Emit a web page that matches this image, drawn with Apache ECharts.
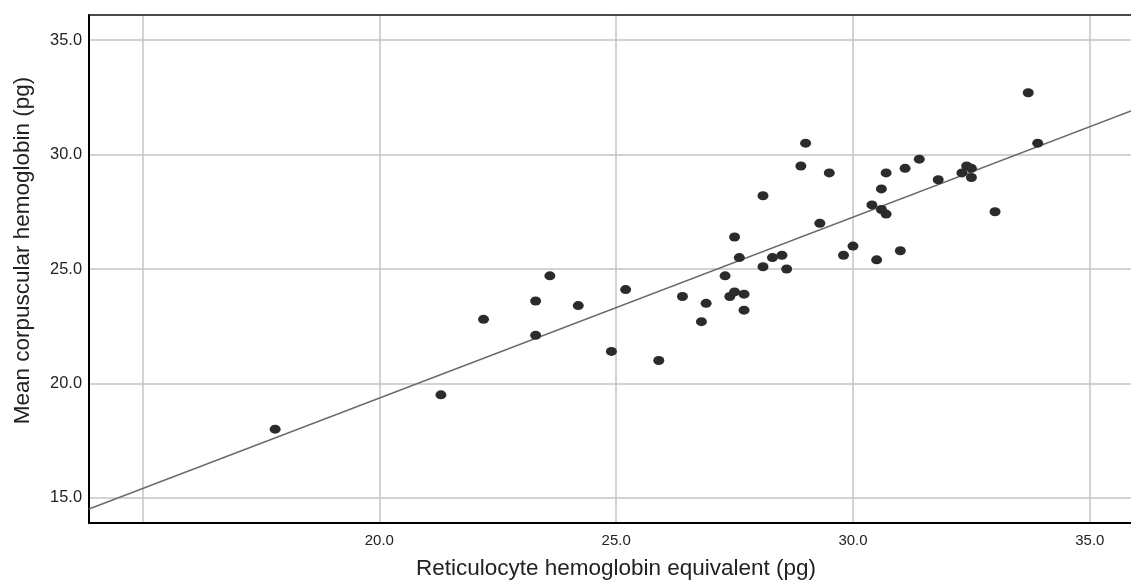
<!DOCTYPE html>
<html>
<head>
<meta charset="utf-8">
<script src="https://cdn.jsdelivr.net/npm/echarts@6/dist/echarts.min.js"></script>
<style>
  html, body { margin: 0; padding: 0; background: #fff; }
  #chart { width: 1131px; height: 585px; }
</style>
</head>
<body>
<div id="chart"></div>
<script>
// Reticulocyte hemoglobin equivalent (pg) for each subject
const retHe = [
  17.8, 21.3, 22.2, 23.3, 23.3, 23.6, 24.2, 24.9, 25.2, 25.9,
  26.4, 26.8, 26.9, 27.3, 27.4, 27.5, 27.7, 27.7, 27.5, 27.6,
  28.1, 28.1, 28.3, 28.5, 28.6, 28.9, 29.0, 29.3, 29.5, 29.8,
  30.0, 30.4, 30.5, 30.6, 30.6, 30.7, 30.7, 31.0, 31.1, 31.4,
  31.8, 32.3, 32.4, 32.5, 32.5, 33.0, 33.7, 33.9
];
// Mean corpuscular hemoglobin (pg) for the same subjects
const mch = [
  18.0, 19.5, 22.8, 23.6, 22.1, 24.7, 23.4, 21.4, 24.1, 21.0,
  23.8, 22.7, 23.5, 24.7, 23.8, 24.0, 23.9, 23.2, 26.4, 25.5,
  28.2, 25.1, 25.5, 25.6, 25.0, 29.5, 30.5, 27.0, 29.2, 25.6,
  26.0, 27.8, 25.4, 28.5, 27.6, 27.4, 29.2, 25.8, 29.4, 29.8,
  28.9, 29.2, 29.5, 29.4, 29.0, 27.5, 32.7, 30.5
];
// Axis ticks
const xTicks = [15, 20, 25, 30, 35];
const xTickLabels = [20, 25, 30, 35];
const yTicks = [15, 20, 25, 30, 35];

const xMin = 13.87, xMax = 35.87;
const yMin = 13.9, yMax = 36.1;

// Ordinary least-squares fit of MCH on RET-He
function linearFit(xs, ys) {
  const n = xs.length;
  let sx = 0, sy = 0;
  for (let i = 0; i < n; i++) { sx += xs[i]; sy += ys[i]; }
  const mx = sx / n, my = sy / n;
  let sxy = 0, sxx = 0;
  for (let i = 0; i < n; i++) {
    sxy += (xs[i] - mx) * (ys[i] - my);
    sxx += (xs[i] - mx) * (xs[i] - mx);
  }
  const slope = sxy / sxx;
  return { slope: slope, intercept: my - slope * mx };
}
const fit = linearFit(retHe, mch);
const fitLine = [xMin, xMax].map(x => [x, fit.intercept + fit.slope * x]);

const points = retHe.map((x, i) => [x, mch[i]]);

const chart = echarts.init(document.getElementById('chart'), null, { renderer: 'canvas' });
const FONT = '"Liberation Sans", Arial, sans-serif';
const fmt = v => Number(v).toFixed(1);

chart.setOption({
  animation: false,
  backgroundColor: '#ffffff',
  grid: { left: 89, right: 0, top: 15, bottom: 60, containLabel: false },
  xAxis: [{
    type: 'value',
    min: xMin, max: xMax,
    position: 'bottom',
    name: 'Reticulocyte hemoglobin equivalent (pg)',
    nameLocation: 'middle',
    nameGap: 34,
    nameTextStyle: { fontFamily: FONT, fontSize: 22.5, color: '#222', padding: [0, 0, 0, 12] },
    axisLine: { show: true, onZero: false, lineStyle: { color: '#000', width: 2 } },
    axisTick: { show: false, customValues: xTicks },
    axisLabel: {
      customValues: xTickLabels, formatter: fmt, margin: 10,
      fontFamily: FONT, fontSize: 15, color: '#222'
    },
    splitLine: { show: true, lineStyle: { color: '#c4c4c4', width: 1.5 } }
  }, {
    type: 'value',
    min: xMin, max: xMax,
    position: 'top',
    axisLine: { show: true, onZero: false, lineStyle: { color: '#111', width: 1.5 } },
    axisTick: { show: false },
    axisLabel: { show: false },
    splitLine: { show: false }
  }],
  yAxis: {
    type: 'value',
    min: yMin, max: yMax,
    name: 'Mean corpuscular hemoglobin (pg)',
    nameLocation: 'middle',
    nameGap: 55,
    nameTextStyle: { fontFamily: FONT, fontSize: 22.5, color: '#222', padding: [0, 0, 0, 37] },
    axisLine: { show: true, onZero: false, lineStyle: { color: '#000', width: 2 } },
    axisTick: { show: false, customValues: yTicks },
    axisLabel: {
      customValues: yTicks, formatter: fmt, margin: 7,
      fontFamily: FONT, fontSize: 16.4, color: '#222'
    },
    splitLine: { show: true, lineStyle: { color: '#c4c4c4', width: 1.5 } }
  },
  series: [{
    type: 'line',
    data: fitLine,
    symbol: 'none',
    silent: true,
    lineStyle: { color: '#6a6a6a', width: 1.5 },
    z: 2
  }, {
    type: 'scatter',
    data: points,
    symbol: 'circle',
    symbolSize: [11, 9],
    itemStyle: { color: '#2b2b2b', opacity: 1 },
    z: 3
  }]
});
</script>
</body>
</html>
